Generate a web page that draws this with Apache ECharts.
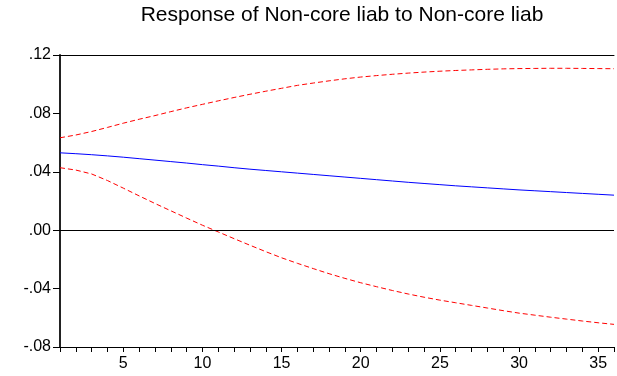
<!DOCTYPE html>
<html>
<head>
<meta charset="utf-8">
<script src="https://cdn.jsdelivr.net/npm/echarts@6/dist/echarts.min.js"></script>
<style>
  html, body { margin: 0; padding: 0; background: #fff; }
  #chart { width: 617px; height: 376px; }
</style>
</head>
<body>
<div id="chart"></div>
<script>
const title = 'Response of Non-core liab to Non-core liab'

const periods = [
  1, 2, 3, 4, 5, 6, 7, 8, 9, 10, 11, 12, 13, 14, 15, 16, 17, 18,
  19, 20, 21, 22, 23, 24, 25, 26, 27, 28, 29, 30, 31, 32, 33, 34, 35, 36
]

// point estimate
const response = [
  0.0530, 0.0524, 0.0517, 0.0509, 0.0500, 0.0490, 0.0480, 0.0470, 0.0460,
  0.0449, 0.0439, 0.0428, 0.0418, 0.0409, 0.0400, 0.0391, 0.0382, 0.0373,
  0.0364, 0.0355, 0.0346, 0.0337, 0.0328, 0.0320, 0.0312, 0.0304, 0.0297,
  0.0290, 0.0283, 0.0276, 0.0270, 0.0264, 0.0258, 0.0252, 0.0246, 0.0240
]

// +/- 2 s.e. bands
const upperBand = [
  0.0633, 0.0652, 0.0676, 0.0704, 0.0733, 0.0760, 0.0785, 0.0812, 0.0838,
  0.0862, 0.0886, 0.0909, 0.0931, 0.0952, 0.0972, 0.0992, 0.1008, 0.1023,
  0.1037, 0.1049, 0.1059, 0.1068, 0.1076, 0.1083, 0.1089, 0.1094, 0.1098,
  0.1102, 0.1105, 0.1107, 0.1108, 0.1109, 0.1109, 0.1108, 0.1107, 0.1106
]

const lowerBand = [
  0.0428, 0.0412, 0.0385, 0.0340, 0.0288, 0.0235, 0.0183, 0.0133, 0.0083,
  0.0034, -0.0012, -0.0058, -0.0103, -0.0147, -0.0189, -0.0227, -0.0263, -0.0298,
  -0.0330, -0.0360, -0.0387, -0.0413, -0.0437, -0.0459, -0.0479, -0.0497, -0.0515,
  -0.0533, -0.0551, -0.0568, -0.0582, -0.0596, -0.0609, -0.0622, -0.0634, -0.0645
]

const yTicks = { min: -0.08, max: 0.12, step: 0.04 }
const xLabelEvery = 5

function pairs(values) {
  return periods.map((p, i) => [p, values[i]])
}

const chart = echarts.init(document.getElementById('chart'))

const font = 'Liberation Sans, Arial, sans-serif'

const option = {
  animation: false,
  backgroundColor: '#fff',
  title: {
    text: title,
    left: 337,
    top: 0,
    textAlign: 'center',
    textStyle: {
      fontFamily: font,
      fontSize: 21,
      fontWeight: 'normal',
      color: '#000'
    }
  },
  grid: {
    left: 60,
    right: -2,
    top: 55,
    bottom: 29
  },
  xAxis: [
    {
      type: 'value',
      min: periods[0],
      max: periods[periods.length - 1],
      interval: 1,
      axisLine: { onZero: false, lineStyle: { color: '#000', width: 1 } },
      axisTick: { length: 5, lineStyle: { color: '#000' } },
      axisLabel: {
        margin: 9,
        fontFamily: font,
        fontSize: 16,
        color: '#000',
        formatter: (v) => (v % xLabelEvery === 0 ? String(v) : '')
      },
      splitLine: { show: false }
    },
    {
      type: 'value',
      position: 'top',
      min: periods[0],
      max: periods[periods.length - 1],
      axisLine: { onZero: false, lineStyle: { color: '#000', width: 1 } },
      axisTick: { show: false },
      axisLabel: { show: false },
      splitLine: { show: false }
    }
  ],
  yAxis: {
    type: 'value',
    min: yTicks.min,
    max: yTicks.max,
    interval: yTicks.step,
    axisLine: { show: true, onZero: false, lineStyle: { color: '#222', width: 2 } },
    axisTick: { show: true, length: 7, lineStyle: { color: '#000' } },
    axisLabel: {
      margin: 9,
      fontFamily: font,
      fontSize: 16,
      color: '#000',
      formatter: (v) => v.toFixed(2).replace('0.', '.')
    },
    splitLine: { show: false }
  },
  series: [
    {
      name: 'Response',
      type: 'line',
      data: pairs(response),
      symbol: 'none',
      lineStyle: { color: '#0000ff', width: 1 },
      markLine: {
        silent: true,
        symbol: 'none',
        label: { show: false },
        lineStyle: { color: '#000', width: 1, type: 'solid' },
        data: [{ yAxis: 0 }]
      }
    },
    {
      name: 'Upper',
      type: 'line',
      data: pairs(upperBand),
      symbol: 'none',
      lineStyle: { color: '#ff0000', width: 1, type: [5, 3] }
    },
    {
      name: 'Lower',
      type: 'line',
      data: pairs(lowerBand),
      symbol: 'none',
      lineStyle: { color: '#ff0000', width: 1, type: [5, 3] }
    }
  ]
}

chart.setOption(option)
</script>
</body>
</html>
